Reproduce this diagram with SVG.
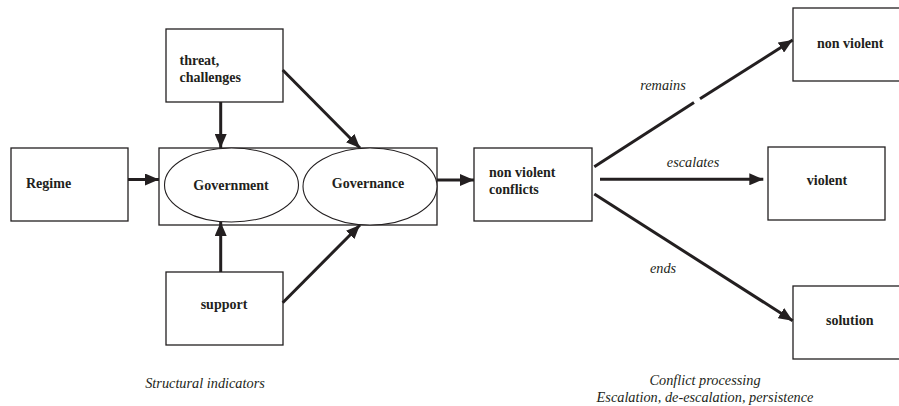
<svg xmlns="http://www.w3.org/2000/svg" width="899" height="406" viewBox="0 0 899 406">
  <style>
    .box { fill: #ffffff; stroke: #231f20; stroke-width: 1.3; }
    .oval { fill: #ffffff; stroke: #231f20; stroke-width: 1.1; }
    .lbl { font-family: "Liberation Serif", "Times New Roman", serif; font-weight: bold; font-size: 14px; fill: #231f20; }
    .note { font-family: "Liberation Serif", "Times New Roman", serif; font-style: italic; font-size: 14.3px; fill: #231f20; }
    .edge { stroke: #231f20; stroke-width: 3; fill: none; }
  </style>
  <defs>
    <marker id="head" markerUnits="userSpaceOnUse" markerWidth="14" markerHeight="12" refX="14" refY="6" orient="auto">
      <path d="M0,0 L14,6 L0,12 z" fill="#231f20"/>
    </marker>
  </defs>
  <rect width="899" height="406" fill="#ffffff"/>

  <!-- structural side -->
  <g id="regime">
    <rect class="box" x="11" y="148" width="117" height="73"/>
    <text class="lbl" x="26" y="188">Regime</text>
  </g>
  <g id="threat">
    <rect class="box" x="166" y="29" width="117" height="73"/>
    <text class="lbl" x="179.5" y="65">threat,</text>
    <text class="lbl" x="179.5" y="82">challenges</text>
  </g>
  <g id="support">
    <rect class="box" x="166" y="272" width="117" height="73"/>
    <text class="lbl" x="224" y="309" text-anchor="middle">support</text>
  </g>
  <g id="state">
    <rect class="box" x="159" y="148" width="278" height="77"/>
    <g id="government">
      <ellipse class="oval" cx="231.5" cy="185" rx="67" ry="37"/>
      <text class="lbl" x="231" y="190" text-anchor="middle">Government</text>
    </g>
    <g id="governance">
      <ellipse class="oval" cx="370" cy="186.5" rx="67" ry="38.5"/>
      <text class="lbl" x="368" y="188" text-anchor="middle">Governance</text>
    </g>
  </g>

  <!-- conflict side -->
  <g id="conflicts">
    <rect class="box" x="474" y="148" width="118" height="73"/>
    <text class="lbl" x="489" y="177">non violent</text>
    <text class="lbl" x="489" y="194">conflicts</text>
  </g>
  <g id="nonviolent">
    <rect class="box" x="793" y="8" width="120" height="73"/>
    <text class="lbl" x="817" y="48">non violent</text>
  </g>
  <g id="violent">
    <rect class="box" x="768" y="147" width="117" height="73"/>
    <text class="lbl" x="827" y="185" text-anchor="middle">violent</text>
  </g>
  <g id="solution">
    <rect class="box" x="793" y="286" width="120" height="73"/>
    <text class="lbl" x="826" y="325">solution</text>
  </g>

  <g id="connectors">
    <line class="edge" x1="128" y1="179.5" x2="159" y2="179.5" marker-end="url(#head)"/>
    <line class="edge" x1="220.7" y1="102" x2="220.7" y2="148" marker-end="url(#head)"/>
    <line class="edge" x1="282.7" y1="70" x2="360" y2="148" marker-end="url(#head)"/>
    <line class="edge" x1="220.7" y1="272" x2="220.7" y2="222" marker-end="url(#head)"/>
    <line class="edge" x1="282.7" y1="302.7" x2="360" y2="225" marker-end="url(#head)"/>
    <line class="edge" x1="437" y1="180" x2="474" y2="180" marker-end="url(#head)"/>
    <line class="edge" x1="594.3" y1="166.7" x2="694" y2="102.6"/>
    <line class="edge" x1="700" y1="98.8" x2="792.7" y2="40" marker-end="url(#head)"/>
    <line class="edge" x1="600" y1="179.3" x2="763.3" y2="179.3" marker-end="url(#head)"/>
    <line class="edge" x1="594.3" y1="194" x2="792.7" y2="320.7" marker-end="url(#head)"/>
  </g>

  <g id="notes">
    <text class="note" x="663" y="90" text-anchor="middle">remains</text>
    <text class="note" x="693" y="166.5" text-anchor="middle">escalates</text>
    <text class="note" x="663" y="273" text-anchor="middle">ends</text>
    <text class="note" x="205" y="388" text-anchor="middle">Structural indicators</text>
    <text class="note" x="705" y="385" text-anchor="middle">Conflict processing</text>
    <text class="note" x="705" y="401.5" text-anchor="middle">Escalation, de-escalation, persistence</text>
  </g>
</svg>
